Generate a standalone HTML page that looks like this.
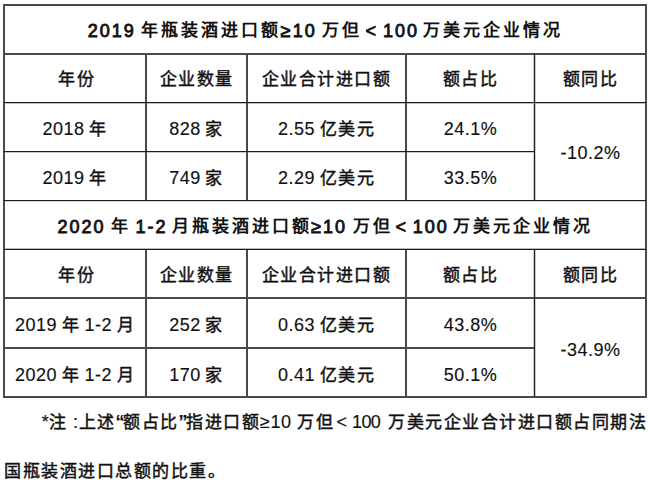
<!DOCTYPE html>
<html lang="zh-CN">
<head>
<meta charset="utf-8">
<style>
html,body{margin:0;padding:0;background:#fff;}
body{width:650px;height:484px;position:relative;overflow:hidden;font-family:"Liberation Sans",sans-serif;color:#111;font-size:18px;letter-spacing:0.5px;word-spacing:-1px;line-height:20px;-webkit-text-stroke:0.15px #111;}
.h,.v{position:absolute;background:#4a4a4a;}
.h{height:2px;}
.v{width:2px;}
.c{position:absolute;text-align:center;white-space:nowrap;}
.t{position:absolute;white-space:nowrap;font-weight:bold;letter-spacing:2px;-webkit-text-stroke:0;}
.f{position:absolute;white-space:nowrap;}
.k{font-size:17px;letter-spacing:1.5px;-webkit-text-stroke:0.45px #111;}
.q{font-weight:bold;letter-spacing:-1.5px;}
.kt{font-size:17px;letter-spacing:3px;position:relative;top:-1px;}
.tn{font-weight:normal;-webkit-text-stroke:0.85px #111;}
</style>
</head>
<body>
<div class="h" style="left:3px;top:103px;width:644px;height:1px;background:#bdbdbd"></div>
<div class="h" style="left:3px;top:152px;width:532px;height:1px;background:#c8c8c8"></div>
<div class="h" style="left:3px;top:201px;width:644px;height:1px;background:#d8d8d8"></div>
<div class="h" style="left:3px;top:248px;width:644px;height:1px;background:#b8b8b8"></div>
<div class="v" style="left:533px;top:53px;height:148px;width:3px;background:#cccccc"></div>
<div class="v" style="left:533px;top:249px;height:148px;width:3px;background:#cccccc"></div>
<div class="h" style="left:3px;top:4px;width:644px"></div>
<div class="h" style="left:3px;top:53px;width:644px"></div>
<div class="h" style="left:3px;top:297px;width:644px"></div>
<div class="h" style="left:3px;top:347px;width:532px"></div>
<div class="h" style="left:3px;top:396px;width:644px"></div>
<div class="v" style="left:3px;top:4px;height:394px"></div>
<div class="v" style="left:645px;top:4px;height:394px"></div>
<div class="v" style="left:145px;top:53px;height:148px"></div>
<div class="v" style="left:246px;top:53px;height:148px"></div>
<div class="v" style="left:405px;top:53px;height:148px"></div>
<div class="v" style="left:534px;top:53px;height:148px;width:1px;background:#1e1e1e"></div>
<div class="v" style="left:145px;top:249px;height:148px"></div>
<div class="v" style="left:246px;top:249px;height:148px"></div>
<div class="v" style="left:405px;top:249px;height:148px"></div>
<div class="v" style="left:534px;top:249px;height:148px;width:1px;background:#1e1e1e"></div>
<div class="h" style="left:3px;top:102px;width:644px;height:1px;background:#1e1e1e"></div>
<div class="h" style="left:3px;top:151px;width:532px;height:1px;background:#1e1e1e"></div>
<div class="h" style="left:3px;top:200px;width:644px;height:1px;background:#1e1e1e"></div>
<div class="h" style="left:3px;top:249px;width:644px;height:1px;background:#1e1e1e"></div>
<div class="t tn" style="left:87.8px;top:21px">2019</div>
<div class="t" style="left:141px;top:21px"><span class="kt">年瓶装酒进口额</span></div>
<div class="t tn" style="left:280.8px;top:21px">≥10</div>
<div class="t" style="left:322.3px;top:21px"><span class="kt">万但</span></div>
<div class="t tn" style="left:365.4px;top:21px">&lt;</div>
<div class="t tn" style="left:383px;top:21px">100</div>
<div class="t" style="left:423px;top:21px"><span class="kt">万美元企业情况</span></div>
<div class="t tn" style="left:57.5px;top:217px">2020</div>
<div class="t" style="left:110.8px;top:217px"><span class="kt">年</span></div>
<div class="t tn" style="left:135.4px;top:217px">1-2</div>
<div class="t" style="left:172.3px;top:217px"><span class="kt">月瓶装酒进口额</span></div>
<div class="t tn" style="left:311.2px;top:217px">≥10</div>
<div class="t" style="left:353px;top:217px"><span class="kt">万但</span></div>
<div class="t tn" style="left:395.4px;top:217px">&lt;</div>
<div class="t tn" style="left:412.7px;top:217px">100</div>
<div class="t" style="left:453px;top:217px"><span class="kt">万美元企业情况</span></div>
<div class="c" style="left:5px;top:68.5px;width:140px;padding-left:3px;box-sizing:border-box;"><span class="k">年份</span></div>
<div class="c" style="left:147px;top:68.5px;width:99px;"><span class="k">企业数量</span></div>
<div class="c" style="left:248px;top:68.5px;width:157px;"><span class="k">企业合计进口额</span></div>
<div class="c" style="left:407px;top:68.5px;width:127px;"><span class="k">额占比</span></div>
<div class="c" style="left:536px;top:68.5px;width:109px;"><span class="k">额同比</span></div>
<div class="c" style="left:5px;top:264.5px;width:140px;padding-left:3px;box-sizing:border-box;"><span class="k">年份</span></div>
<div class="c" style="left:147px;top:264.5px;width:99px;"><span class="k">企业数量</span></div>
<div class="c" style="left:248px;top:264.5px;width:157px;"><span class="k">企业合计进口额</span></div>
<div class="c" style="left:407px;top:264.5px;width:127px;"><span class="k">额占比</span></div>
<div class="c" style="left:536px;top:264.5px;width:109px;"><span class="k">额同比</span></div>
<div class="c" style="left:5px;top:119px;width:140px;">2018 <span class="k">年</span></div>
<div class="c" style="left:147px;top:119px;width:99px;">828 <span class="k">家</span></div>
<div class="c" style="left:248px;top:119px;width:157px;">2.55 <span class="k">亿美元</span></div>
<div class="c" style="left:407px;top:119px;width:127px;">24.1%</div>
<div class="c" style="left:5px;top:168px;width:140px;">2019 <span class="k">年</span></div>
<div class="c" style="left:147px;top:168px;width:99px;">749 <span class="k">家</span></div>
<div class="c" style="left:248px;top:168px;width:157px;">2.29 <span class="k">亿美元</span></div>
<div class="c" style="left:407px;top:168px;width:127px;">33.5%</div>
<div class="c" style="left:5px;top:315px;width:140px;">2019 <span class="k">年</span> 1-2 <span class="k">月</span></div>
<div class="c" style="left:147px;top:315px;width:99px;">252 <span class="k">家</span></div>
<div class="c" style="left:248px;top:315px;width:157px;">0.63 <span class="k">亿美元</span></div>
<div class="c" style="left:407px;top:315px;width:127px;">43.8%</div>
<div class="c" style="left:5px;top:365px;width:140px;">2020 <span class="k">年</span> 1-2 <span class="k">月</span></div>
<div class="c" style="left:147px;top:365px;width:99px;">170 <span class="k">家</span></div>
<div class="c" style="left:248px;top:365px;width:157px;">0.41 <span class="k">亿美元</span></div>
<div class="c" style="left:407px;top:365px;width:127px;">50.1%</div>
<div class="c" style="left:536px;top:143px;width:109px;">-10.2%</div>
<div class="c" style="left:536px;top:340px;width:109px;">-34.9%</div>
<div class="f" style="left:41.8px;top:412px">*<span class="k">注</span></div>
<div class="f" style="left:73px;top:412px">:<span class="k">上述</span><b class="q">“</b><span class="k">额占比</span><b class="q">”</b><span class="k">指进口额</span>≥10</div>
<div class="f" style="left:297.3px;top:412px"><span class="k">万但</span></div>
<div class="f" style="left:336.5px;top:412px">&lt;</div>
<div class="f" style="left:352px;top:412px"><span style="letter-spacing:-0.6px">100</span></div>
<div class="f" style="left:388px;top:412px"><span class="k">万美元企业合计进口额占同期法</span></div>
<div class="f" style="left:4.0px;top:460.5px"><span class="k">国瓶装酒进口总额的比重。</span></div>
</body>
</html>
